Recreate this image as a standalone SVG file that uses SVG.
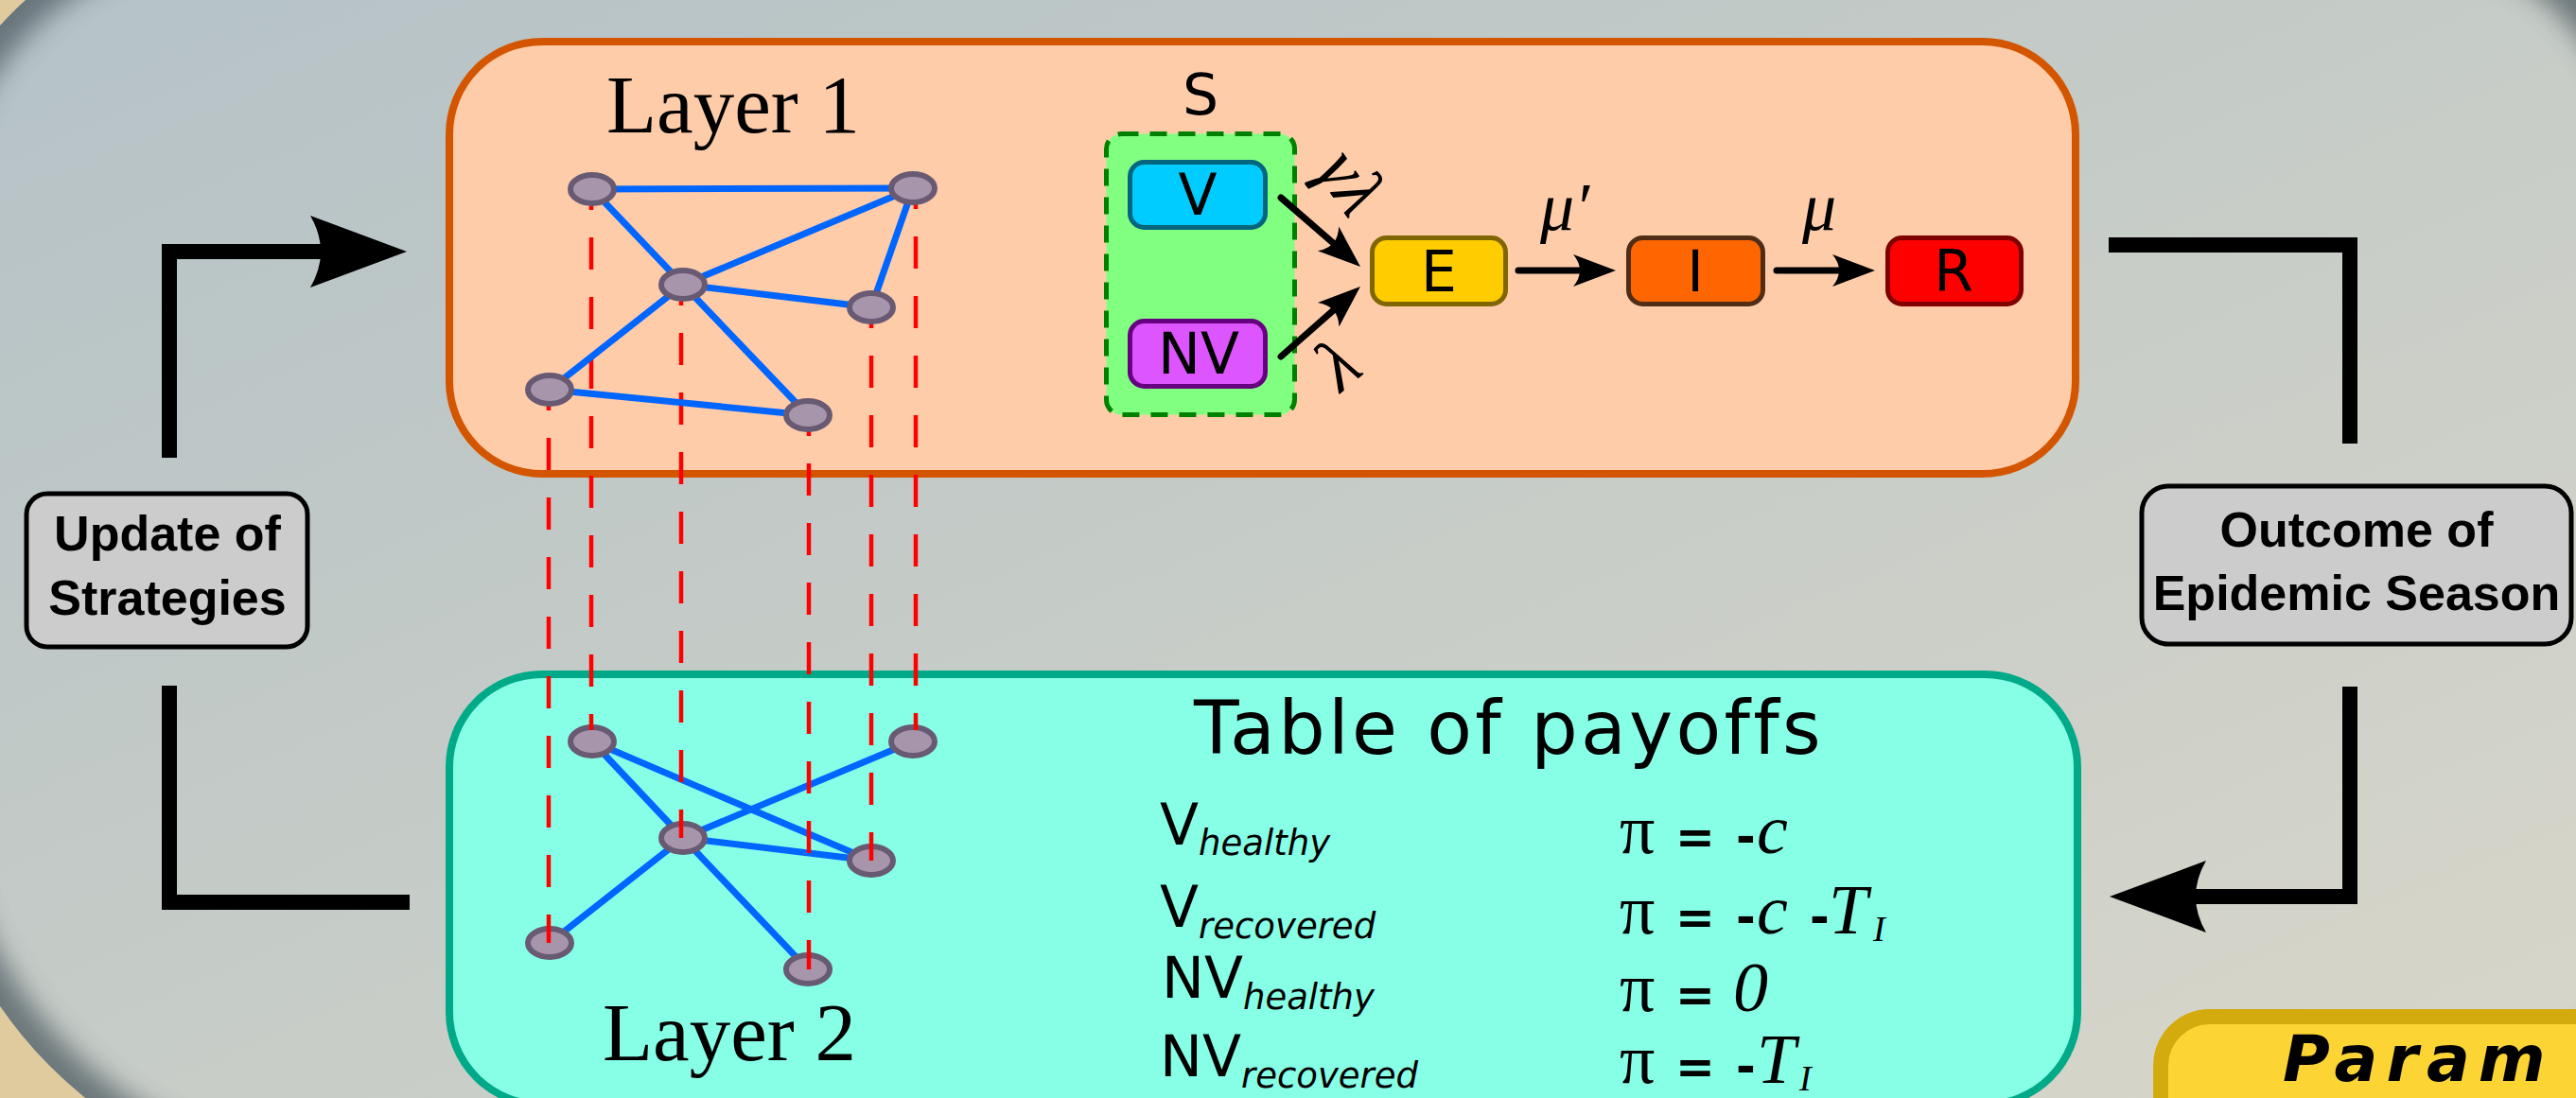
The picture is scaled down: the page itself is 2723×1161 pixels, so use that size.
<svg xmlns="http://www.w3.org/2000/svg" width="2723" height="1161" viewBox="0 0 2723 1161">
<defs>
<style>
.lbl{font-family:"DejaVu Sans",sans-serif;font-size:60px;text-anchor:middle}
.layer{font-family:"Liberation Serif","Times New Roman",serif;font-size:87px;text-anchor:middle}
.bold{font-family:"Liberation Sans",Arial,sans-serif;font-weight:bold;font-size:52px;text-anchor:middle}
.mi{font-family:"Liberation Serif",serif;font-style:italic;font-size:72px}
.node{fill:#a795ac;stroke:#695a73;stroke-width:6}
.edge{stroke:#0066ff;stroke-width:7;stroke-linecap:round}
.dash{stroke:#ff0000;stroke-width:4.5;stroke-dasharray:34 29;fill:none}
.loop{fill:none;stroke:#000;stroke-width:16;stroke-linejoin:miter}
.arr{stroke:#000;stroke-width:7;fill:none;stroke-linecap:round}
.pay{font-family:"DejaVu Sans",sans-serif;font-size:60px}
.sub{font-family:"DejaVu Sans",sans-serif;font-style:italic;font-size:37px}
.pi{font-family:"Liberation Serif",serif;font-size:74px}
.eq{font-family:"DejaVu Sans",sans-serif;font-weight:bold;font-size:50px}
.mt{font-family:"Liberation Serif",serif;font-style:italic;font-size:74px}
.ms{font-family:"Liberation Serif",serif;font-style:italic;font-size:38px}
.box{stroke-width:5}
</style>
<linearGradient id="bg" gradientUnits="userSpaceOnUse" x1="0" y1="0" x2="838" y2="1965">
<stop offset="0" stop-color="#b5c2c7"/>
<stop offset="0.5" stop-color="#c6ccc7"/>
<stop offset="1" stop-color="#d8d6ca"/>
</linearGradient>
<path id="plate" d="M238,-80 H2544 A256,256 0 0 1 2800,176 V961 A300,300 0 0 1 2500,1261 H375 A455,455 0 0 1 -80,806 V238 A318,318 0 0 1 238,-80 Z"/>
<clipPath id="plateClip"><use href="#plate"/></clipPath>
<filter id="blur" x="-5%" y="-5%" width="110%" height="110%"><feGaussianBlur stdDeviation="14"/></filter>
<marker id="ah" markerUnits="userSpaceOnUse" viewBox="0 -20 48 40" refX="10" refY="0" markerWidth="48" markerHeight="40" orient="auto"><path d="M45,0 L0,-17 Q14,0 0,17 Z" fill="#000"/></marker>
<marker id="big" markerUnits="userSpaceOnUse" viewBox="0 -40 104 80" refX="12" refY="0" markerWidth="104" markerHeight="80" orient="auto"><path d="M102,0 L0,-38 Q22,0 0,38 Z" fill="#000"/></marker>
</defs>

<g id="background">
<rect x="0" y="0" width="2723" height="1161" fill="#dfcb9e"/>
<use href="#plate" fill="url(#bg)"/>
<g clip-path="url(#plateClip)"><use href="#plate" fill="none" stroke="#4e5a60" stroke-width="56" opacity="0.75" filter="url(#blur)"/></g>
</g>

<g id="layer1-box"><rect x="475" y="44" width="1719" height="457" rx="98" fill="#ffccaa" stroke="#d45500" stroke-width="8"/></g>
<g id="layer2-box"><rect x="475" y="713" width="1721" height="455" rx="98" fill="#87ffe6" stroke="#00aa88" stroke-width="8"/></g>

<g id="layer2-network">
<line class="edge" x1="626" y1="784" x2="921" y2="910"/>
<line class="edge" x1="626" y1="784" x2="722" y2="886"/>
<line class="edge" x1="722" y1="886" x2="965" y2="784"/>
<line class="edge" x1="722" y1="886" x2="921" y2="910"/>
<line class="edge" x1="722" y1="886" x2="581" y2="997"/>
<line class="edge" x1="722" y1="886" x2="854" y2="1025"/>
<ellipse class="node" cx="626" cy="784" rx="23" ry="15"/>
<ellipse class="node" cx="965" cy="784" rx="23" ry="15"/>
<ellipse class="node" cx="722" cy="886" rx="23" ry="15"/>
<ellipse class="node" cx="921" cy="910" rx="23" ry="15"/>
<ellipse class="node" cx="581" cy="997" rx="23" ry="15"/>
<ellipse class="node" cx="854" cy="1025" rx="23" ry="15"/>
</g>

<g id="interlayer-links">
<line class="dash" x1="580" y1="400" x2="580" y2="997"/>
<line class="dash" x1="625" y1="188" x2="625" y2="772"/>
<line class="dash" x1="720" y1="289" x2="720" y2="886"/>
<line class="dash" x1="855" y1="427" x2="855" y2="1025"/>
<line class="dash" x1="921" y1="313" x2="921" y2="910"/>
<line class="dash" x1="968" y1="187" x2="968" y2="772"/>
</g>

<g id="layer1-network">
<line class="edge" x1="626" y1="200" x2="965" y2="199"/>
<line class="edge" x1="626" y1="200" x2="722" y2="301"/>
<line class="edge" x1="722" y1="301" x2="965" y2="199"/>
<line class="edge" x1="722" y1="301" x2="921" y2="325"/>
<line class="edge" x1="921" y1="325" x2="965" y2="199"/>
<line class="edge" x1="722" y1="301" x2="581" y2="412"/>
<line class="edge" x1="722" y1="301" x2="854" y2="439"/>
<line class="edge" x1="581" y1="412" x2="854" y2="439"/>
<ellipse class="node" cx="626" cy="200" rx="23" ry="15"/>
<ellipse class="node" cx="965" cy="199" rx="23" ry="15"/>
<ellipse class="node" cx="722" cy="301" rx="23" ry="15"/>
<ellipse class="node" cx="921" cy="325" rx="23" ry="15"/>
<ellipse class="node" cx="581" cy="412" rx="23" ry="15"/>
<ellipse class="node" cx="854" cy="439" rx="23" ry="15"/>
</g>

<g id="layer-labels">
<text class="layer" x="775" y="140">Layer 1</text>
<text class="layer" x="771" y="1121">Layer 2</text>
</g>

<g id="S-group">
<rect x="1169.5" y="141.5" width="199" height="297" rx="16" fill="#80ff80" stroke="#008000" stroke-width="5" stroke-dasharray="18 12"/>
<text class="lbl" x="1269" y="121">S</text>
</g>
<g id="V"><rect class="box" x="1194.5" y="171.5" width="143" height="69" rx="15" fill="#00ccff" stroke="#04657f"/><text class="lbl" x="1266" y="227">V</text></g>
<g id="NV"><rect class="box" x="1194.5" y="339.5" width="143" height="69" rx="15" fill="#dd55ff" stroke="#660080"/><text class="lbl" x="1267" y="395">NV</text></g>
<g id="E"><rect class="box" x="1450.5" y="251.5" width="141" height="70" rx="15" fill="#ffcc00" stroke="#806600"/><text class="lbl" x="1521" y="308">E</text></g>
<g id="I"><rect class="box" x="1721.5" y="251.5" width="142" height="70" rx="15" fill="#ff6600" stroke="#502d16"/><text class="lbl" x="1792" y="308">I</text></g>
<g id="R"><rect class="box" x="1995.5" y="251.5" width="141" height="70" rx="15" fill="#ff0000" stroke="#800000"/><text class="lbl" x="2065" y="308">R</text></g>

<g id="seir-connectors">
<line class="arr" x1="1354" y1="209" x2="1411.6" y2="259" marker-end="url(#ah)"/>
<line class="arr" x1="1354" y1="377" x2="1411.7" y2="326.1" marker-end="url(#ah)"/>
<line class="arr" x1="1605" y1="286" x2="1673" y2="286" marker-end="url(#ah)"/>
<line class="arr" x1="1878" y1="286" x2="1947" y2="286" marker-end="url(#ah)"/>
<text class="mi" text-anchor="middle" transform="translate(1420,198) rotate(55)" y="15" style="font-size:78px">γλ</text>
<text class="mi" text-anchor="middle" transform="translate(1416,388) rotate(-40)" y="22" style="font-size:78px">λ</text>
<text class="mi" x="1628" y="243">μ′</text>
<text class="mi" x="1905" y="243">μ</text>
</g>

<g id="payoff-table">
<text class="pay" x="1262" y="797" style="font-size:78px;letter-spacing:3.3px">Table of payoffs</text>
<text class="pay" x="1226" y="893">V<tspan class="sub" dy="11">healthy</tspan></text>
<text class="pay" x="1226" y="980">V<tspan class="sub" dy="12">recovered</tspan></text>
<text class="pay" x="1228" y="1055">NV<tspan class="sub" dy="12">healthy</tspan></text>
<text class="pay" x="1226" y="1138">NV<tspan class="sub" dy="12">recovered</tspan></text>
<text y="902"><tspan class="pi" x="1712">π</tspan><tspan class="eq" x="1771">=</tspan><tspan class="eq" x="1835">-</tspan><tspan class="mt" x="1857">c</tspan></text>
<text y="987"><tspan class="pi" x="1712">π</tspan><tspan class="eq" x="1771">=</tspan><tspan class="eq" x="1835">-</tspan><tspan class="mt" x="1857">c</tspan><tspan class="eq" x="1913">-</tspan><tspan class="mt" x="1933">T</tspan><tspan class="ms" x="1980" y="995">I</tspan></text>
<text y="1069"><tspan class="pi" x="1712">π</tspan><tspan class="eq" x="1771">=</tspan><tspan class="mt" x="1832">0</tspan></text>
<text y="1145"><tspan class="pi" x="1712">π</tspan><tspan class="eq" x="1771">=</tspan><tspan class="eq" x="1835">-</tspan><tspan class="mt" x="1857">T</tspan><tspan class="ms" x="1902" y="1153">I</tspan></text>
</g>

<g id="update-strategies">
<rect x="28" y="522" width="297" height="162" rx="22" fill="#cccccc" stroke="#000" stroke-width="5"/>
<text class="bold" x="177" y="582">Update of</text>
<text class="bold" x="177" y="650">Strategies</text>
</g>
<g id="outcome-season">
<rect x="2264" y="514" width="454" height="167" rx="28" fill="#cccccc" stroke="#000" stroke-width="5"/>
<text class="bold" x="2491" y="578">Outcome of</text>
<text class="bold" x="2491" y="645">Epidemic Season</text>
</g>

<g id="loop-connectors">
<polyline class="loop" points="179,484 179,266 340,266" marker-end="url(#big)"/>
<polyline class="loop" points="179,725 179,954 433,954"/>
<polyline class="loop" points="2229,259 2484,259 2484,469"/>
<polyline class="loop" points="2484,726 2484,948 2320,948" marker-end="url(#big)"/>
</g>

<g id="parameters">
<rect x="2284" y="1075" width="600" height="200" rx="52" fill="#fcd535" stroke="#d4ab0e" stroke-width="16"/>
<text x="2413" y="1143" style="font-family:'DejaVu Sans',sans-serif;font-style:italic;font-weight:bold;font-size:68px;letter-spacing:9px">Param</text>
</g>
</svg>
